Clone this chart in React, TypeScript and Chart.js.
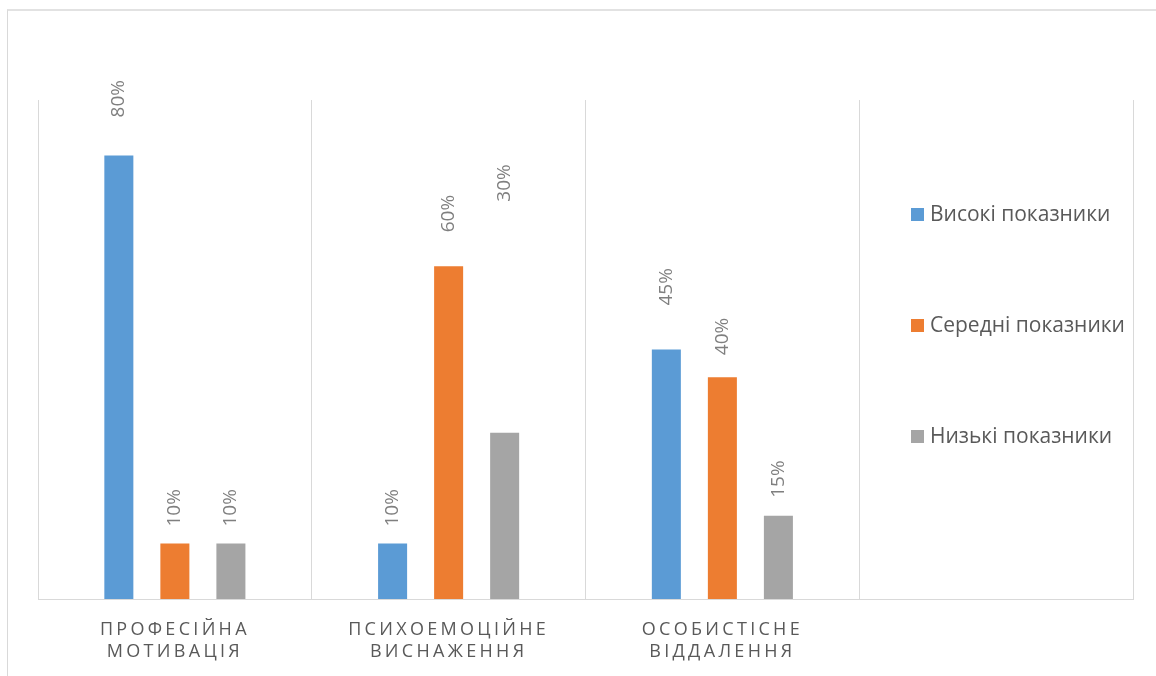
import React, { useEffect, useRef } from "react";
import { Chart, registerables } from "chart.js";

Chart.register(...registerables);

const categories: (string | string[])[] = [
  ["ПРОФЕСІЙНА", "МОТИВАЦІЯ"],
  ["ПСИХОЕМОЦІЙНЕ", "ВИСНАЖЕННЯ"],
  ["ОСОБИСТІСНЕ", "ВІДДАЛЕННЯ"],
  "",
];
const seriesNames = ["Високі показники", "Середні показники", "Низькі показники"];
const highValues = [80, 10, 45, null];
const midValues = [10, 60, 40, null];
const lowValues = [10, 30, 15, null];
const seriesColors = ["#5B9BD5", "#ED7D31", "#A5A5A5"];
// gap (px) between bar top and its rotated value label, per series
const labelGaps = [
  [38, 17, 44, 0],
  [17, 34, 22, 0],
  [17, 231, 18, 0],
];

const FONT = "'Open Sans', 'Noto Sans', sans-serif";

const labelPlugin = {
  id: "valueLabels",
  beforeDraw(chart: any) {
    chart.ctx.letterSpacing = "3.3px";
  },
  beforeDatasetsDraw(chart: any) {
    chart.ctx.letterSpacing = "0px";
  },
  afterDatasetsDraw(chart: any) {
    const ctx = chart.ctx;
    chart.data.datasets.forEach((ds: any, di: number) => {
      const meta = chart.getDatasetMeta(di);
      meta.data.forEach((el: any, i: number) => {
        const v = ds.data[i];
        if (v === null || v === undefined) return;
        ctx.save();
        ctx.translate(el.x, el.y - labelGaps[di][i]);
        ctx.rotate(-Math.PI / 2);
        ctx.font = `19px ${FONT}`;
        ctx.fillStyle = "#7F7F7F";
        ctx.textAlign = "left";
        ctx.textBaseline = "middle";
        ctx.fillText(`${v}%`, 0, 0);
        ctx.restore();
      });
    });
  },
  afterDraw(chart: any) {
    const ctx = chart.ctx;
    const boxX = 911;
    const y0 = 215;
    const step = 111;
    chart.data.datasets.forEach((ds: any, di: number) => {
      const cy = y0 + di * step;
      ctx.save();
      ctx.fillStyle = ds.backgroundColor;
      ctx.fillRect(boxX, cy - 7, 13, 13);
      ctx.font = `21px ${FONT}`;
      ctx.fillStyle = "#595959";
      ctx.textAlign = "left";
      ctx.textBaseline = "middle";
      ctx.fillText(ds.label, boxX + 19, cy);
      ctx.restore();
    });
  },
};

export default function App() {
  const ref = useRef<HTMLCanvasElement | null>(null);
  useEffect(() => {
    if (!ref.current) return;
    const chart = new Chart(ref.current, {
      type: "bar",
      data: {
        labels: categories,
        datasets: [highValues, midValues, lowValues].map((d, i) => ({
          label: seriesNames[i],
          data: d,
          backgroundColor: seriesColors[i],
          borderWidth: 0,
          categoryPercentage: 0.614,
          barPercentage: 0.518,
        })),
      },
      options: {
        responsive: false,
        animation: false,
        devicePixelRatio: 1,
        layout: { padding: { left: 38, right: 23, top: 100, bottom: 17 } },
        plugins: { legend: { display: false }, tooltip: { enabled: false } },
        scales: {
          x: {
            grid: { color: "#D9D9D9", lineWidth: 1, offset: true, drawTicks: false },
            border: { color: "#D9D9D9", width: 1 },
            ticks: {
              color: "#595959",
              font: { family: FONT, size: 18, lineHeight: "22px" },
              padding: 20,
              maxRotation: 0,
              autoSkip: false,
            },
          },
          y: { display: false, min: 0, max: 90 },
        },
      },
      plugins: [labelPlugin],
    });
    return () => chart.destroy();
  }, []);
  return (
    <div
      style={{
        position: "fixed",
        left: 0,
        top: 0,
        width: 1156,
        height: 676,
        overflow: "hidden",
        background: "#fff",
      }}
    >
      <div
        style={{
          position: "absolute",
          left: 7,
          top: 9,
          right: -5,
          bottom: -5,
          borderLeft: "1px solid #D9D9D9",
          borderTop: "2px solid #E2E2E2",
        }}
      />
      <canvas
        ref={ref}
        width={1156}
        height={700}
        style={{ position: "absolute", left: 0, top: 0 }}
      />
    </div>
  );
}
